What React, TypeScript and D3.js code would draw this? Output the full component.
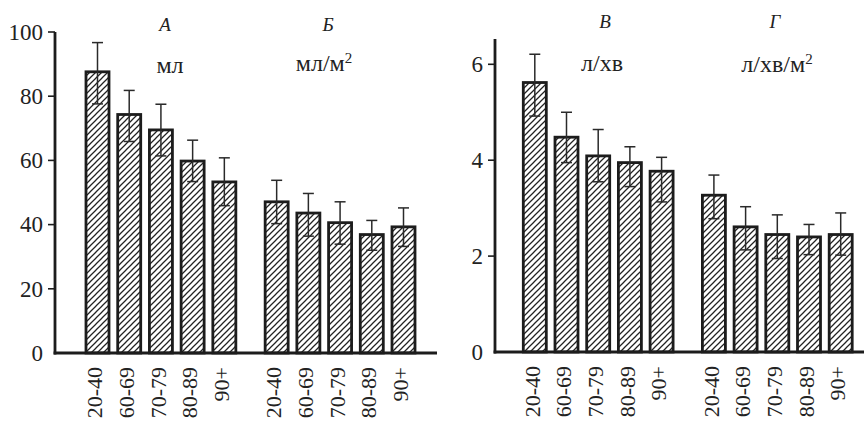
import React from "react";
import * as d3 from "d3";

const ageGroups = ["20-40", "60-69", "70-79", "80-89", "90+"];

// Panel А (мл)
const volA = [87.6, 74.3, 69.5, 59.8, 53.3];
const volAHi = [96.7, 81.8, 77.5, 66.3, 60.8];
const volALo = [77.6, 65.9, 61.4, 53.4, 45.9];
// Panel Б (мл/м2)
const volB = [47.1, 43.6, 40.6, 36.9, 39.3];
const volBHi = [53.8, 49.7, 47.1, 41.3, 45.2];
const volBLo = [40.3, 36.4, 33.9, 32.0, 33.2];
// Panel В (л/хв)
const flowV = [5.62, 4.48, 4.09, 3.95, 3.77];
const flowVHi = [6.21, 5.0, 4.64, 4.28, 4.06];
const flowVLo = [4.92, 3.95, 3.55, 3.45, 3.13];
// Panel Г (л/хв/м2)
const flowG = [3.27, 2.61, 2.45, 2.4, 2.45];
const flowGHi = [3.69, 3.03, 2.86, 2.66, 2.9];
const flowGLo = [2.78, 2.13, 1.95, 2.03, 2.02];

const leftTicks = [0, 20, 40, 60, 80, 100];
const rightTicks = [0, 2, 4, 6];

const FONT = '"Liberation Serif", "Times New Roman", Tinos, serif';
const INK = "#1c1c1c";
const GAP = 1.65;
const BAR_W = 23;
const CAP = 11;

type Group = { vals: number[]; hi: number[]; lo: number[] };

function Panel(props: {
  axisX: number;
  axisEndX: number;
  y0: number;
  yTopVal: number;
  yTopPx: number;
  axisTopPx: number;
  ticks: number[];
  firstCenter: number;
  lastCenter: number;
  groups: Group[];
}) {
  const { axisX, axisEndX, y0, yTopVal, yTopPx, ticks, firstCenter, lastCenter, groups, axisTopPx } = props;
  const y = d3.scaleLinear().domain([0, yTopVal]).range([y0, yTopPx]);
  const lastSlot = 4 + GAP + 4;
  const x = d3.scaleLinear().domain([0, lastSlot]).range([firstCenter, lastCenter]);
  const slot = (g: number, i: number) => i + g * (4 + GAP);
  return (
    <g>
      {groups.map((grp, g) =>
        grp.vals.map((v, i) => {
          const cx = x(slot(g, i));
          return (
            <rect
              key={`b${g}${i}`}
              x={cx - BAR_W / 2}
              y={y(v)}
              width={BAR_W}
              height={y0 - y(v)}
              fill={`url(#hatch)`}
              stroke={INK}
              strokeWidth={2.8}
            />
          );
        })
      )}
      {groups.map((grp, g) =>
        grp.vals.map((v, i) => {
          const cx = x(slot(g, i));
          const yh = y(grp.hi[i]);
          const yl = y(grp.lo[i]);
          return (
            <g key={`e${g}${i}`} stroke="#2a2a2a" strokeWidth={1.5}>
              <line x1={cx} x2={cx} y1={yh} y2={yl} />
              <line x1={cx - CAP / 2} x2={cx + CAP / 2} y1={yh} y2={yh} />
              <line x1={cx - CAP / 2} x2={cx + CAP / 2} y1={yl} y2={yl} />
            </g>
          );
        })
      )}
      <line x1={axisX} x2={axisX} y1={axisTopPx} y2={y0 + 1.4} stroke={INK} strokeWidth={2.8} />
      <line x1={axisX - 1.4} x2={axisEndX} y1={y0} y2={y0} stroke={INK} strokeWidth={2.8} />
      {ticks.map((t) => (
        <g key={`t${t}`}>
          {t !== 0 && <line x1={axisX - 7} x2={axisX} y1={y(t)} y2={y(t)} stroke={INK} strokeWidth={1.6} />}
          <text
            x={axisX - 12}
            y={y(t)}
            dy="0.34em"
            textAnchor="end"
            style={{ fontFamily: FONT, fontSize: 23 }}
            fill="#222"
          >
            {t}
          </text>
        </g>
      ))}
      {groups.map((grp, g) =>
        ageGroups.map((lab, i) => {
          const cx = x(slot(g, i)) - 3;
          return (
            <text
              key={`l${g}${i}`}
              transform={`translate(${cx},${y0 + 14}) rotate(-90)`}
              textAnchor="end"
              dy="0.35em"
              style={{ fontFamily: FONT, fontSize: 22 }}
              fill="#222"
            >
              {lab}
            </text>
          );
        })
      )}
    </g>
  );
}

export default function App() {
  return (
    <svg
      width={864}
      height={424}
      style={{ position: "fixed", left: 0, top: 0, background: "#fff", fontFamily: FONT }}
    >
      <defs>
        <pattern id="hatch" patternUnits="userSpaceOnUse" width={6} height={6}>
          <rect width={6} height={6} fill="#fff" />
          <path d="M0,6 L6,0 M-1.5,1.5 L1.5,-1.5 M4.5,7.5 L7.5,4.5" stroke="#222" strokeWidth={1.25} />
        </pattern>
      </defs>
      <rect width={864} height={424} fill="#fff" />
      <Panel
        axisX={55}
        axisEndX={437}
        y0={353}
        yTopVal={100}
        yTopPx={32}
        axisTopPx={32}
        ticks={leftTicks}
        firstCenter={97.5}
        lastCenter={403.5}
        groups={[
          { vals: volA, hi: volAHi, lo: volALo },
          { vals: volB, hi: volBHi, lo: volBLo },
        ]}
      />
      <Panel
        axisX={495}
        axisEndX={864}
        y0={352}
        yTopVal={6}
        yTopPx={64.3}
        axisTopPx={39}
        ticks={rightTicks}
        firstCenter={534.8}
        lastCenter={840.7}
        groups={[
          { vals: flowV, hi: flowVHi, lo: flowVLo },
          { vals: flowG, hi: flowGHi, lo: flowGLo },
        ]}
      />
      <g fill="#222" textAnchor="middle">
        <text x={165} y={31} style={{ fontFamily: FONT, fontSize: 19, fontStyle: "italic" }}>А</text>
        <text x={328} y={31} style={{ fontFamily: FONT, fontSize: 19, fontStyle: "italic" }}>Б</text>
        <text x={605} y={28} style={{ fontFamily: FONT, fontSize: 19, fontStyle: "italic" }}>В</text>
        <text x={775} y={28} style={{ fontFamily: FONT, fontSize: 19, fontStyle: "italic" }}>Г</text>
        <text x={170} y={73} style={{ fontFamily: FONT, fontSize: 24 }}>мл</text>
        <text x={324} y={71} style={{ fontFamily: FONT, fontSize: 24 }}>
          мл/м<tspan style={{ fontSize: 15 }} dy={-8}>2</tspan>
        </text>
        <text x={602} y={71} style={{ fontFamily: FONT, fontSize: 24 }}>л/хв</text>
        <text x={777} y={72} style={{ fontFamily: FONT, fontSize: 24 }}>
          л/хв/м<tspan style={{ fontSize: 15 }} dy={-8}>2</tspan>
        </text>
      </g>
    </svg>
  );
}
